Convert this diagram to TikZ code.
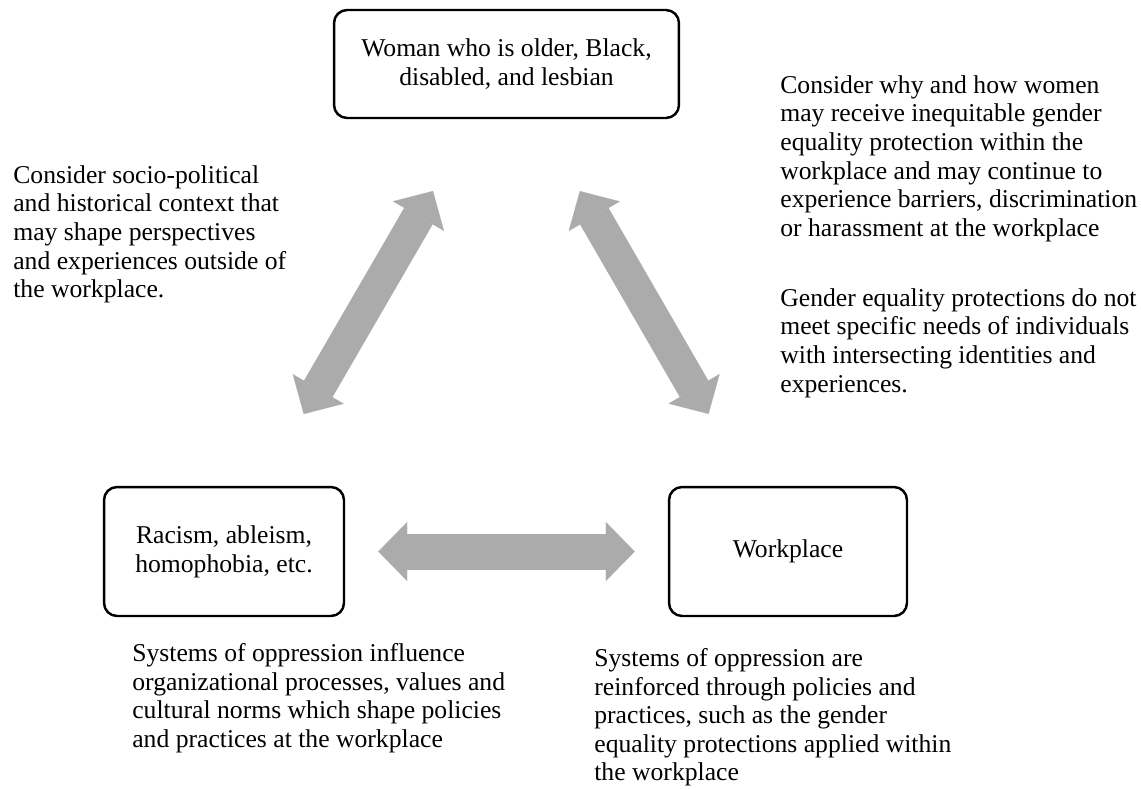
\documentclass[tikz,border=0pt]{standalone}
\usepackage{fontspec}
\setmainfont{Liberation Serif}
\usetikzlibrary{arrows.meta, positioning}
\definecolor{arrowgray}{RGB}{171,171,171}

\tikzset{
  idbox/.style={draw, line width=1.4pt, rounded corners=0.26cm, align=center,
    minimum width=4.8cm, minimum height=2.58cm, font=\fontsize{14.6}{16.3}\selectfont},
  note/.style={anchor=north west, inner sep=0pt, align=left,
    font=\fontsize{14.6}{16.3}\selectfont},
  blocktip/.tip={Triangle[width=1.18cm, length=0.58cm, line width=0.1pt]},
  link/.style={arrowgray, line width=#1, blocktip-blocktip},
}

\begin{document}
\begin{tikzpicture}[x=0.02cm, y=-0.02cm]
  % Page frame
  \useasboundingbox (0,0) rectangle (1141,789);

  % The three boxes
  \node[idbox, minimum width=6.9cm, minimum height=2.16cm] (woman) at (506.5,64)
    {Woman who is older, Black,\\disabled, and lesbian};
  \node[idbox] (isms) at (224,551.5) {Racism, ableism,\\homophobia, etc.};
  \node[idbox, minimum width=4.76cm] (work) at (788,551.5) {Workplace};

  % Two-way block arrows between the boxes
  \draw[link=0.66cm, shorten <=1.66cm, shorten >=1.66cm] (woman) -- (isms);
  \draw[link=0.66cm, shorten <=1.66cm, shorten >=1.66cm] (woman) -- (work);
  \draw[link=0.72cm, shorten <=0.66cm, shorten >=0.66cm] (isms) -- (work);

  % Left note
  \node[note] (context) at (13,165)
    {Consider socio-political\\and historical context that\\may shape perspectives\\
     and experiences outside of\\the workplace.};

  % Right notes
  \node[note] (inequity) at (780,75)
    {Consider why and how women\\may receive inequitable gender\\
     equality protection within the\\workplace and may continue to\\
     experience barriers, discrimination\\or harassment at the workplace};
  \node[note] (needs) at (780,288)
    {Gender equality protections do not\\meet specific needs of individuals\\
     with intersecting identities and\\experiences.};

  % Bottom notes
  \node[note] (influence) at (132,643)
    {Systems of oppression influence\\organizational processes, values and\\
     cultural norms which shape policies\\and practices at the workplace};
  \node[note] (reinforce) at (594,648)
    {Systems of oppression are\\reinforced through policies and\\
     practices, such as the gender\\equality protections applied within\\
     the workplace};
\end{tikzpicture}
\end{document}
